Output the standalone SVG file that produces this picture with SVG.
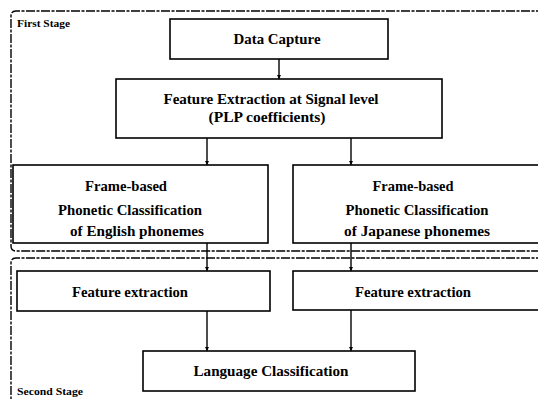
<svg xmlns="http://www.w3.org/2000/svg" width="538" height="399" viewBox="0 0 538 399">
<style>
.box{fill:#fff;stroke:#000;stroke-width:1.6}
.stage{fill:none;stroke:#000;stroke-width:1.4;stroke-dasharray:9,1.5,3,1.5}
.t{font-family:"Liberation Serif","Times New Roman",serif;font-weight:bold;font-size:14px;text-anchor:middle;fill:#000}
.s{font-family:"Liberation Serif","Times New Roman",serif;font-weight:bold;font-size:10px;fill:#000}
.c{stroke:#000;stroke-width:1.4;fill:none;marker-end:url(#a)}
</style>
<defs>
<marker id="a" markerWidth="4" markerHeight="4" refX="4" refY="2" orient="auto" markerUnits="userSpaceOnUse">
<path d="M0,0 L4,2 L0,4 Z" fill="#000"/>
</marker>
</defs>
<g id="stages">
<path class="stage" d="M545,11 H16 Q11,11 11,16 V246 Q11,251 16,251 H545"/>
<path class="stage" d="M545,258 H16 Q11,258 11,263 V402"/>
<text class="s" x="17" y="27" textLength="53" lengthAdjust="spacingAndGlyphs">First Stage</text>
<text class="s" x="17" y="395" textLength="66" lengthAdjust="spacingAndGlyphs">Second Stage</text>
</g>
<g id="connectors">
<line class="c" x1="279" y1="59" x2="279" y2="79"/>
<line class="c" x1="207" y1="138" x2="207" y2="165"/>
<line class="c" x1="351" y1="138" x2="351" y2="165"/>
<line class="c" x1="207" y1="243" x2="207" y2="271"/>
<line class="c" x1="351" y1="243" x2="351" y2="271"/>
<line class="c" x1="207" y1="311" x2="207" y2="351"/>
<line class="c" x1="351" y1="310" x2="351" y2="351"/>
</g>
<g id="data-capture">
<rect class="box" x="170" y="19" width="218" height="40"/>
<text class="t" x="277" y="44" textLength="87" lengthAdjust="spacingAndGlyphs">Data Capture</text>
</g>
<g id="feature-extraction-signal">
<rect class="box" x="116" y="79" width="326" height="59"/>
<text class="t" x="271" y="104" textLength="215" lengthAdjust="spacingAndGlyphs">Feature Extraction at Signal level</text>
<text class="t" x="267" y="122" textLength="117" lengthAdjust="spacingAndGlyphs">(PLP  coefficients)</text>
</g>
<g id="frame-english">
<rect class="box" x="13" y="165" width="255" height="78"/>
<text class="t" x="126" y="191" textLength="82" lengthAdjust="spacingAndGlyphs">Frame-based</text>
<text class="t" x="130" y="215" textLength="144" lengthAdjust="spacingAndGlyphs">Phonetic Classification</text>
<text class="t" x="137" y="236" textLength="134" lengthAdjust="spacingAndGlyphs">of English phonemes</text>
</g>
<g id="frame-japanese">
<rect class="box" x="293" y="165" width="252" height="78"/>
<text class="t" x="413" y="191" textLength="81" lengthAdjust="spacingAndGlyphs">Frame-based</text>
<text class="t" x="417" y="215" textLength="143" lengthAdjust="spacingAndGlyphs">Phonetic Classification</text>
<text class="t" x="417" y="236" textLength="146" lengthAdjust="spacingAndGlyphs">of Japanese phonemes</text>
</g>
<g id="feature-extraction-left">
<rect class="box" x="17" y="271" width="253" height="40"/>
<text class="t" x="130" y="297" textLength="116" lengthAdjust="spacingAndGlyphs">Feature extraction</text>
</g>
<g id="feature-extraction-right">
<rect class="box" x="293" y="271" width="252" height="39"/>
<text class="t" x="413" y="297" textLength="116" lengthAdjust="spacingAndGlyphs">Feature extraction</text>
</g>
<g id="language-classification">
<rect class="box" x="143" y="351" width="272" height="40"/>
<text class="t" x="271" y="376" textLength="155" lengthAdjust="spacingAndGlyphs">Language Classification</text>
</g>
</svg>
